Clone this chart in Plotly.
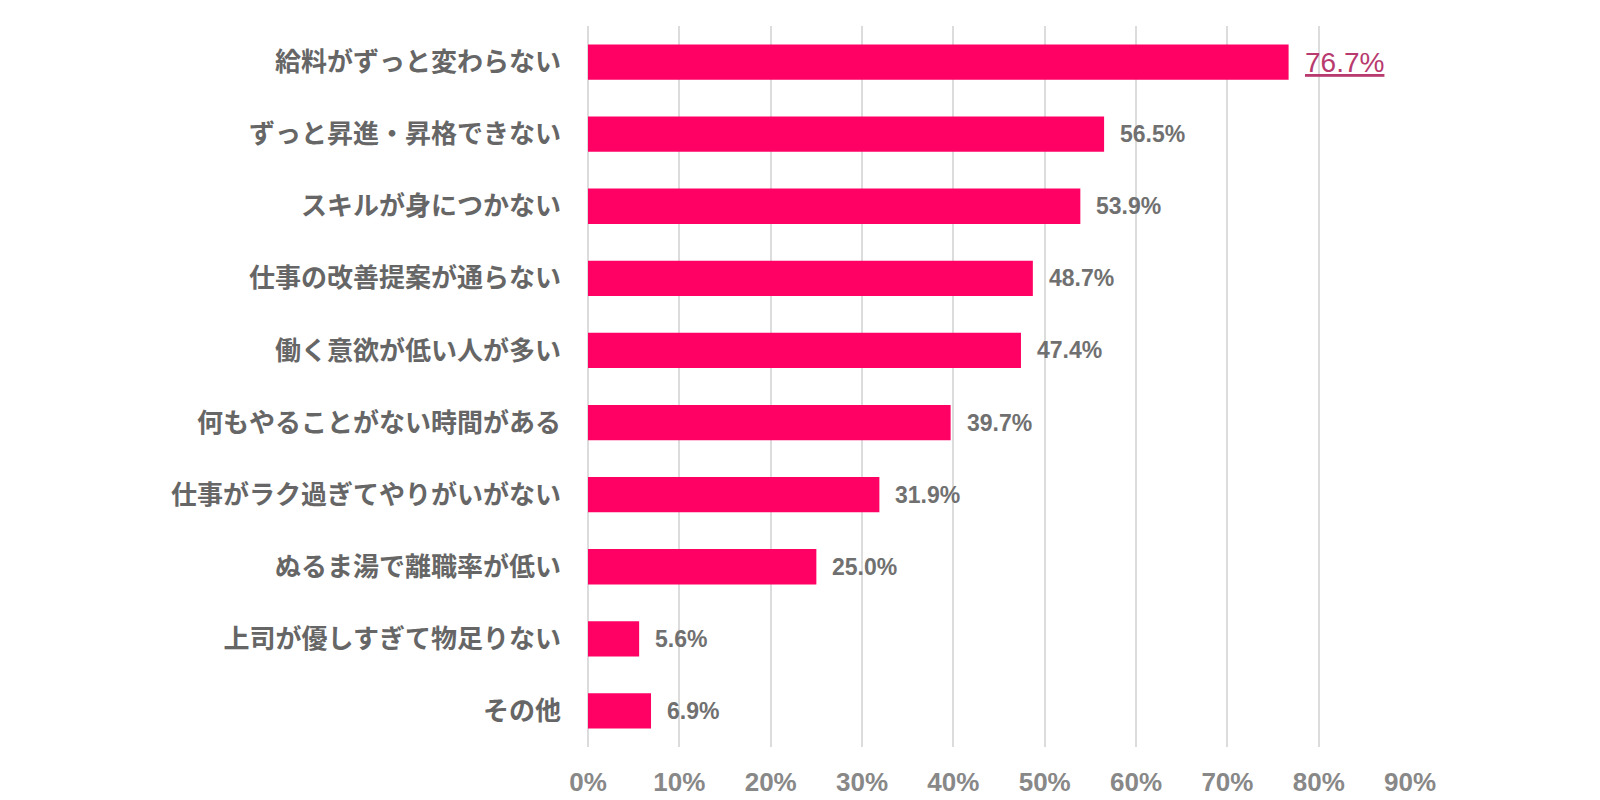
import plotly.graph_objects as go

categories = [
    "給料がずっと変わらない",
    "ずっと昇進・昇格できない",
    "スキルが身につかない",
    "仕事の改善提案が通らない",
    "働く意欲が低い人が多い",
    "何もやることがない時間がある",
    "仕事がラク過ぎてやりがいがない",
    "ぬるま湯で離職率が低い",
    "上司が優しすぎて物足りない",
    "その他",
]
values = [76.7, 56.5, 53.9, 48.7, 47.4, 39.7, 31.9, 25.0, 5.6, 6.9]
x_ticks = [0, 10, 20, 30, 40, 50, 60, 70, 80, 90]
x_tick_labels = [f"{t}%" for t in x_ticks]

BAR = "#FF0064"
TXT = "#666666"
JP = "Noto Sans CJK JP"

fig = go.Figure()
fig.add_trace(go.Bar(
    y=categories, x=values, orientation="h",
    marker=dict(color=BAR, line=dict(width=0)),
    width=0.49, hoverinfo="skip",
))

annotations = []
for i, (c, v) in enumerate(zip(categories, values)):
    if i == 0:
        txt = f"<u>{v:.1f}%</u>"
        font = dict(family="Liberation Sans, Arial", size=28, color="#B83A6E")
    else:
        txt = f"<b>{v:.1f}%</b>"
        font = dict(family="Liberation Sans, Arial", size=23, color="#707070")
    annotations.append(dict(
        x=v, y=c, xref="x", yref="y", text=txt, showarrow=False,
        xanchor="left", yanchor="middle", xshift=14, font=font,
    ))

fig.update_layout(
    width=1600, height=800,
    margin=dict(l=580, r=197, t=18, b=61),
    paper_bgcolor="white", plot_bgcolor="white",
    showlegend=False,
    annotations=annotations,
    xaxis=dict(
        range=[0, 90.1], tickvals=x_ticks, ticktext=x_tick_labels,
        showgrid=True, gridcolor="#DCDCDC", gridwidth=1.5,
        zeroline=True, zerolinecolor="#DCDCDC", zerolinewidth=1.5,
        showline=False, ticks="", ticklabelstandoff=17,
        tickfont=dict(family="Liberation Sans, Arial", size=26, color="#888888", weight="bold"),
        fixedrange=True,
    ),
    yaxis=dict(
        categoryorder="array", categoryarray=categories,
        autorange=False, range=[9.5, -0.5],
        showgrid=False, zeroline=False, showline=False, ticks="",
        ticklabelstandoff=26,
        tickfont=dict(family=JP, size=26, color=TXT, weight="bold"),
        fixedrange=True,
    ),
)

fig.write_html("out.html")
